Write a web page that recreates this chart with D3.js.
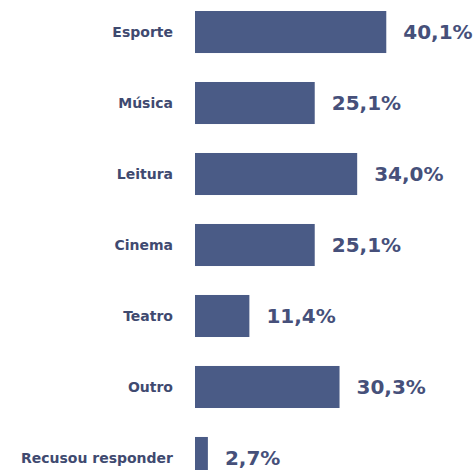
<!DOCTYPE html>
<html><head><meta charset="utf-8">
<script src="https://cdn.jsdelivr.net/npm/d3@7"></script>
<style>body{margin:0;background:#fff}</style>
</head><body>
<script>
const categories = ["Esporte","Música","Leitura","Cinema","Teatro","Outro","Recusou responder"];
const values = [40.1, 25.1, 34.0, 25.1, 11.4, 30.3, 2.7];
const valueLabels = ["40,1%","25,1%","34,0%","25,1%","11,4%","30,3%","2,7%"];

const W = 475, H = 470;
const svg = d3.select("body").append("svg").attr("width", W).attr("height", H);

const y = d3.scaleBand().domain(categories).range([11, 479]).paddingInner(0.408).paddingOuter(0);
const x = d3.scaleLinear().domain([0, 100]).range([195, 672]);

const rows = svg.selectAll("g.row").data(categories).join("g").attr("class","row");

rows.append("rect")
  .attr("x", x(0))
  .attr("y", d => y(d))
  .attr("width", (d,i) => x(values[i]) - x(0))
  .attr("height", y.bandwidth())
  .attr("fill", "#4a5b86");

rows.append("text")
  .attr("x", 173)
  .attr("y", d => y(d) + y.bandwidth()/2)
  .attr("dy", "0.36em")
  .attr("text-anchor", "end")
  .attr("font-family", "DejaVu Sans, sans-serif")
  .attr("font-weight", "bold")
  .attr("font-size", 14)
  .attr("fill", "#3f4a70")
  .text(d => d);

rows.append("text")
  .attr("x", (d,i) => x(values[i]) + 17)
  .attr("y", d => y(d) + y.bandwidth()/2)
  .attr("dy", "0.36em")
  .attr("font-family", "DejaVu Sans, sans-serif")
  .attr("font-weight", "bold")
  .attr("font-size", 20)
  .attr("fill", "#46507a")
  .text((d,i) => valueLabels[i]);
</script>
</body></html>
